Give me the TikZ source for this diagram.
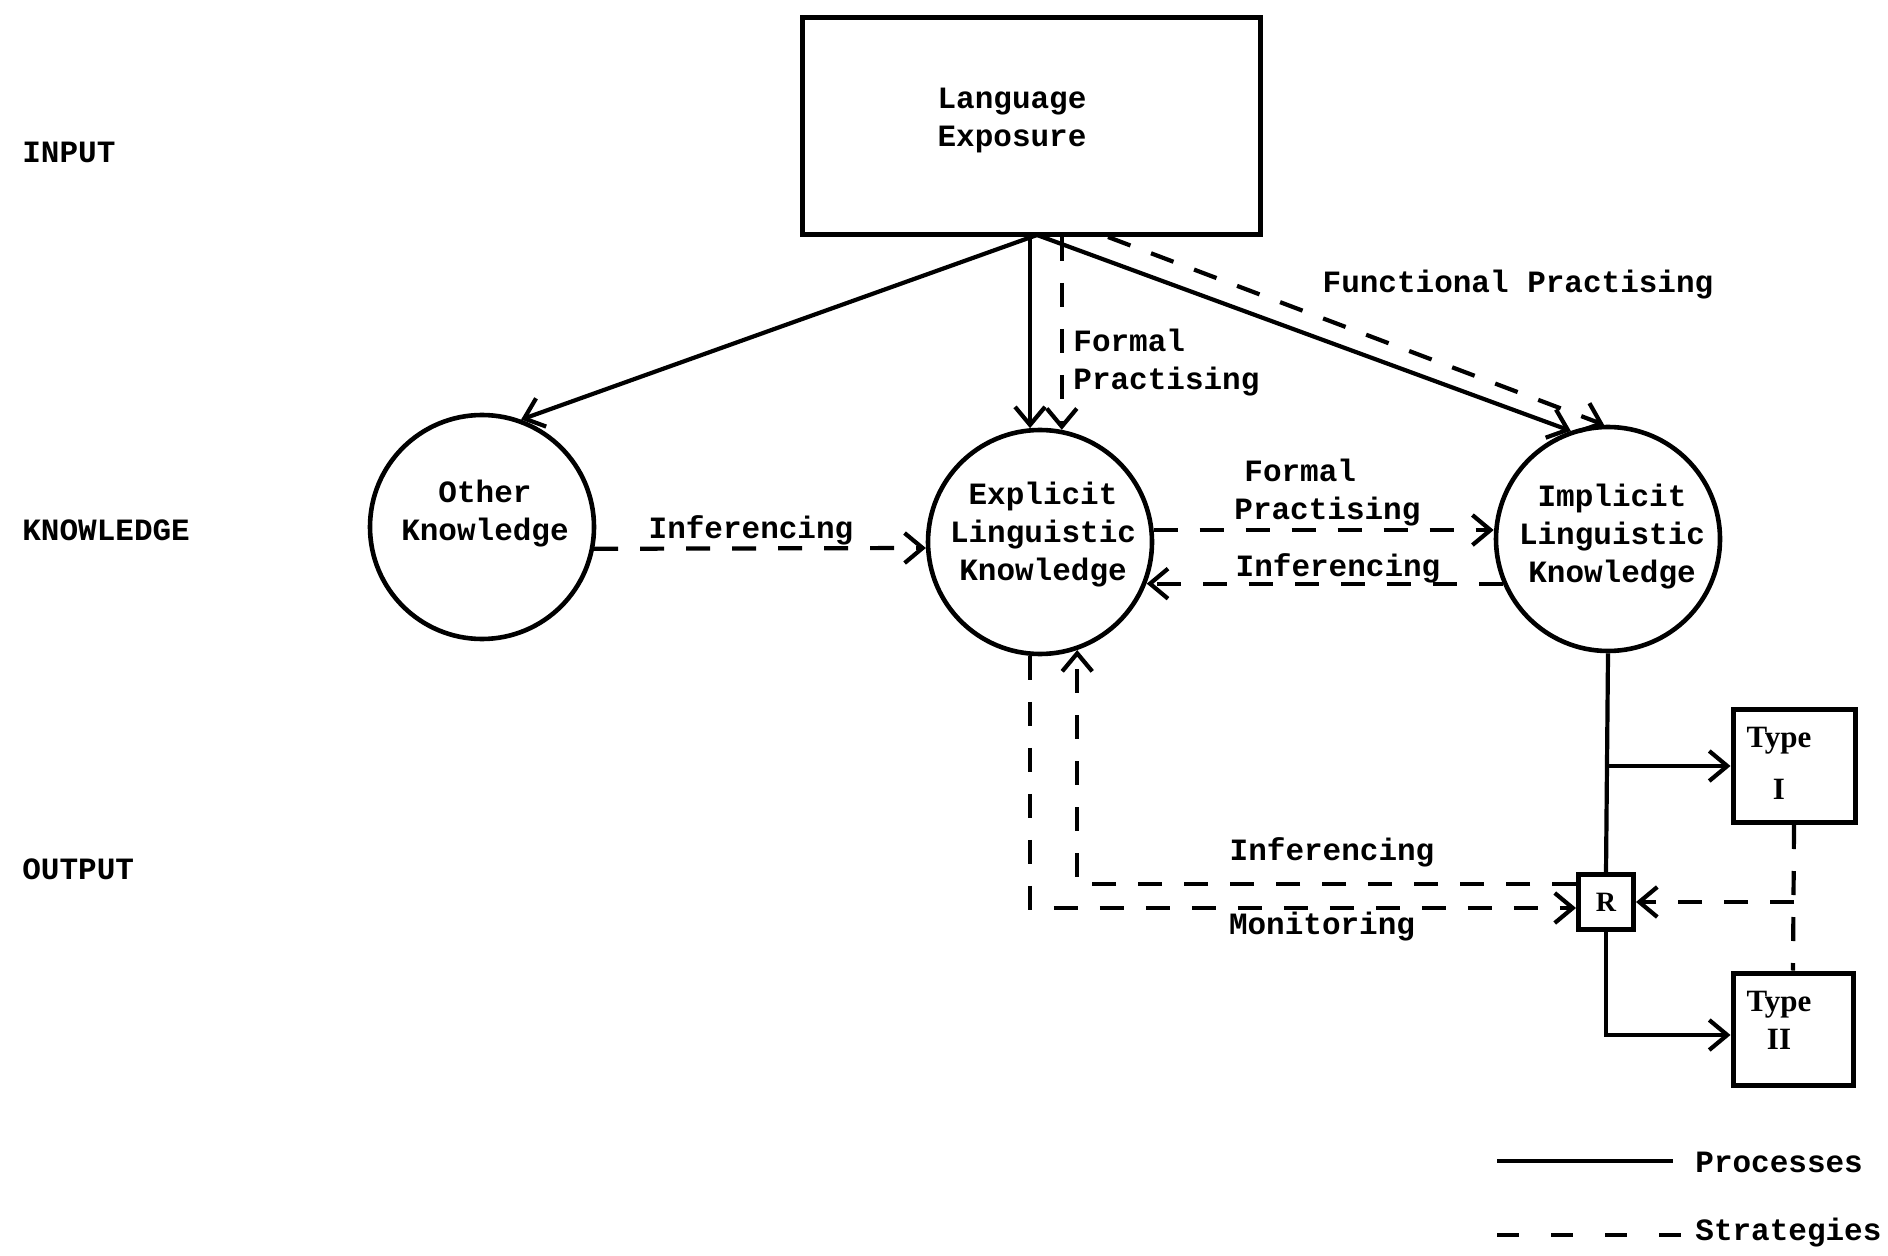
\documentclass[tikz,border=0pt]{standalone}
\usepackage{fontspec}
\setmainfont{Liberation Serif}
\setmonofont{Liberation Mono}
\usetikzlibrary{arrows.meta,calc}
\begin{document}
\begin{tikzpicture}[x=0.5pt,y=-0.5pt,
  lbl/.style={font=\ttfamily\bfseries\fontsize{15.5pt}{19pt}\selectfont, inner sep=0pt, align=center},
  side/.style={font=\ttfamily\bfseries\fontsize{15.5pt}{19pt}\selectfont, inner sep=0pt, anchor=west},
  knode/.style={circle, draw, line width=2.3pt, minimum size=112pt, inner sep=0pt},
  boxnode/.style={draw, line width=2.5pt, inner sep=0pt, align=center},
  typetxt/.style={inner sep=0pt, align=center, font=\rmfamily\bfseries\fontsize{15.5pt}{19pt}\selectfont},
  proc/.style={line width=2.1pt},
  strat/.style={line width=2.1pt, dash pattern=on 12pt off 11pt},
  arr/.style={-{Straight Barb[length=9pt,width=15pt]}}
]
\fill[white] (0,0) rectangle (1888,1256);
\useasboundingbox (0,0) rectangle (1888,1256);

% side labels
\node[side] (input) at (22,152) {INPUT};
\node[side] (knowledge) at (22,530) {KNOWLEDGE};
\node[side] (output) at (22,869) {OUTPUT};

% main nodes
\node[boxnode, minimum width=229pt, minimum height=108.5pt] (lang) at (1031,126) {};
\node[lbl] (langtxt) at (1012,121) {Language\\Exposure};

\node[knode] (other) at (482,527) {};
\node[lbl] (othertxt) at (485,514) {Other\\Knowledge};
\node[knode] (explicit) at (1040,542) {};
\node[lbl] (explicittxt) at (1043,535) {Explicit\\Linguistic\\Knowledge};
\node[knode] (implicit) at (1608,539) {};
\node[lbl] (implicittxt) at (1612,537) {Implicit\\Linguistic\\Knowledge};

\node[boxnode, minimum width=61pt, minimum height=56.5pt] (type1) at (1794,766) {};
\node[typetxt] (type1txt) at (1779,763) {Type\\[7pt]I};
\node[boxnode, minimum width=60pt, minimum height=56pt] (type2) at (1793,1029) {};
\node[typetxt] (type2txt) at (1779,1020) {Type\\II};
\node[boxnode, minimum size=27.5pt, font=\rmfamily\bfseries\fontsize{14pt}{16pt}\selectfont] (R) at (1606,902) {R};

% processes from language exposure
\coordinate (hub) at (1037,235);
\draw[proc,arr] (hub) -- (other.70);
\draw[proc,arr] (hub -| explicit.95) -- (explicit.95);
\draw[proc,arr] (hub) -- (implicit.109);

% strategies from language exposure
\draw[strat,arr] (lang.south -| explicit.79) -- (explicit.79);
\draw[strat,arr] ($(lang.south)+(77,0)$) -- (implicit.92);

% knowledge level strategies
\draw[strat,arr] (other.-11) -- (explicit.183);
\draw[strat,arr] (explicit.6) -- (explicit.6 -| implicit.west);
\draw[strat,arr] (implicit.203) -- (implicit.203 -| explicit.339);

% implicit to output
\coordinate (b1) at (implicit.south |- type1.west);
\draw[proc] (implicit.south) -- (R.north);
\draw[proc,arr] (b1) -- (type1.west);
\draw[proc,arr] (R.south) |- ([yshift=-3pt]type2.west);

% type I / II to R
\coordinate (j) at (type1.south |- R.east);
\draw[strat] (type1.south) -- (type2.north);
\draw[strat,arr] (j) -- (R.east);

% R to explicit (inferencing), explicit to R (monitoring)
\draw[strat,arr] ([yshift=9pt]R.west) -| (explicit.-71);
\draw[strat,arr] (explicit.-95) |- ([yshift=-3pt]R.west);

% labels
\node[lbl, anchor=west, align=left] (fp1) at (1073,363) {Formal\\Practising};
\node[lbl] (funp) at (1518,285) {Functional Practising};
\node[lbl] (inf1) at (751,530) {Inferencing};
\node[lbl, anchor=west, align=left] (fp2) at (1234,493) {\hspace*{5pt}Formal\\Practising};
\node[lbl] (inf2) at (1338,568) {Inferencing};
\node[lbl] (inf3) at (1332,852) {Inferencing};
\node[lbl] (mon) at (1322,927) {Monitoring};

% legend
\coordinate (lp1) at (1497,1161);
\coordinate (lp2) at (1673,1161);
\coordinate (ls1) at (1497,1235);
\coordinate (ls2) at (1693,1235);
\draw[proc] (lp1) -- (lp2);
\draw[line width=2.1pt, dash pattern=on 11pt off 16pt] (ls1) -- (ls2);
\node[side] (proctxt) at (1695,1162) {Processes};
\node[side] (strattxt) at (1695,1233) {Strategies};
\end{tikzpicture}
\end{document}
